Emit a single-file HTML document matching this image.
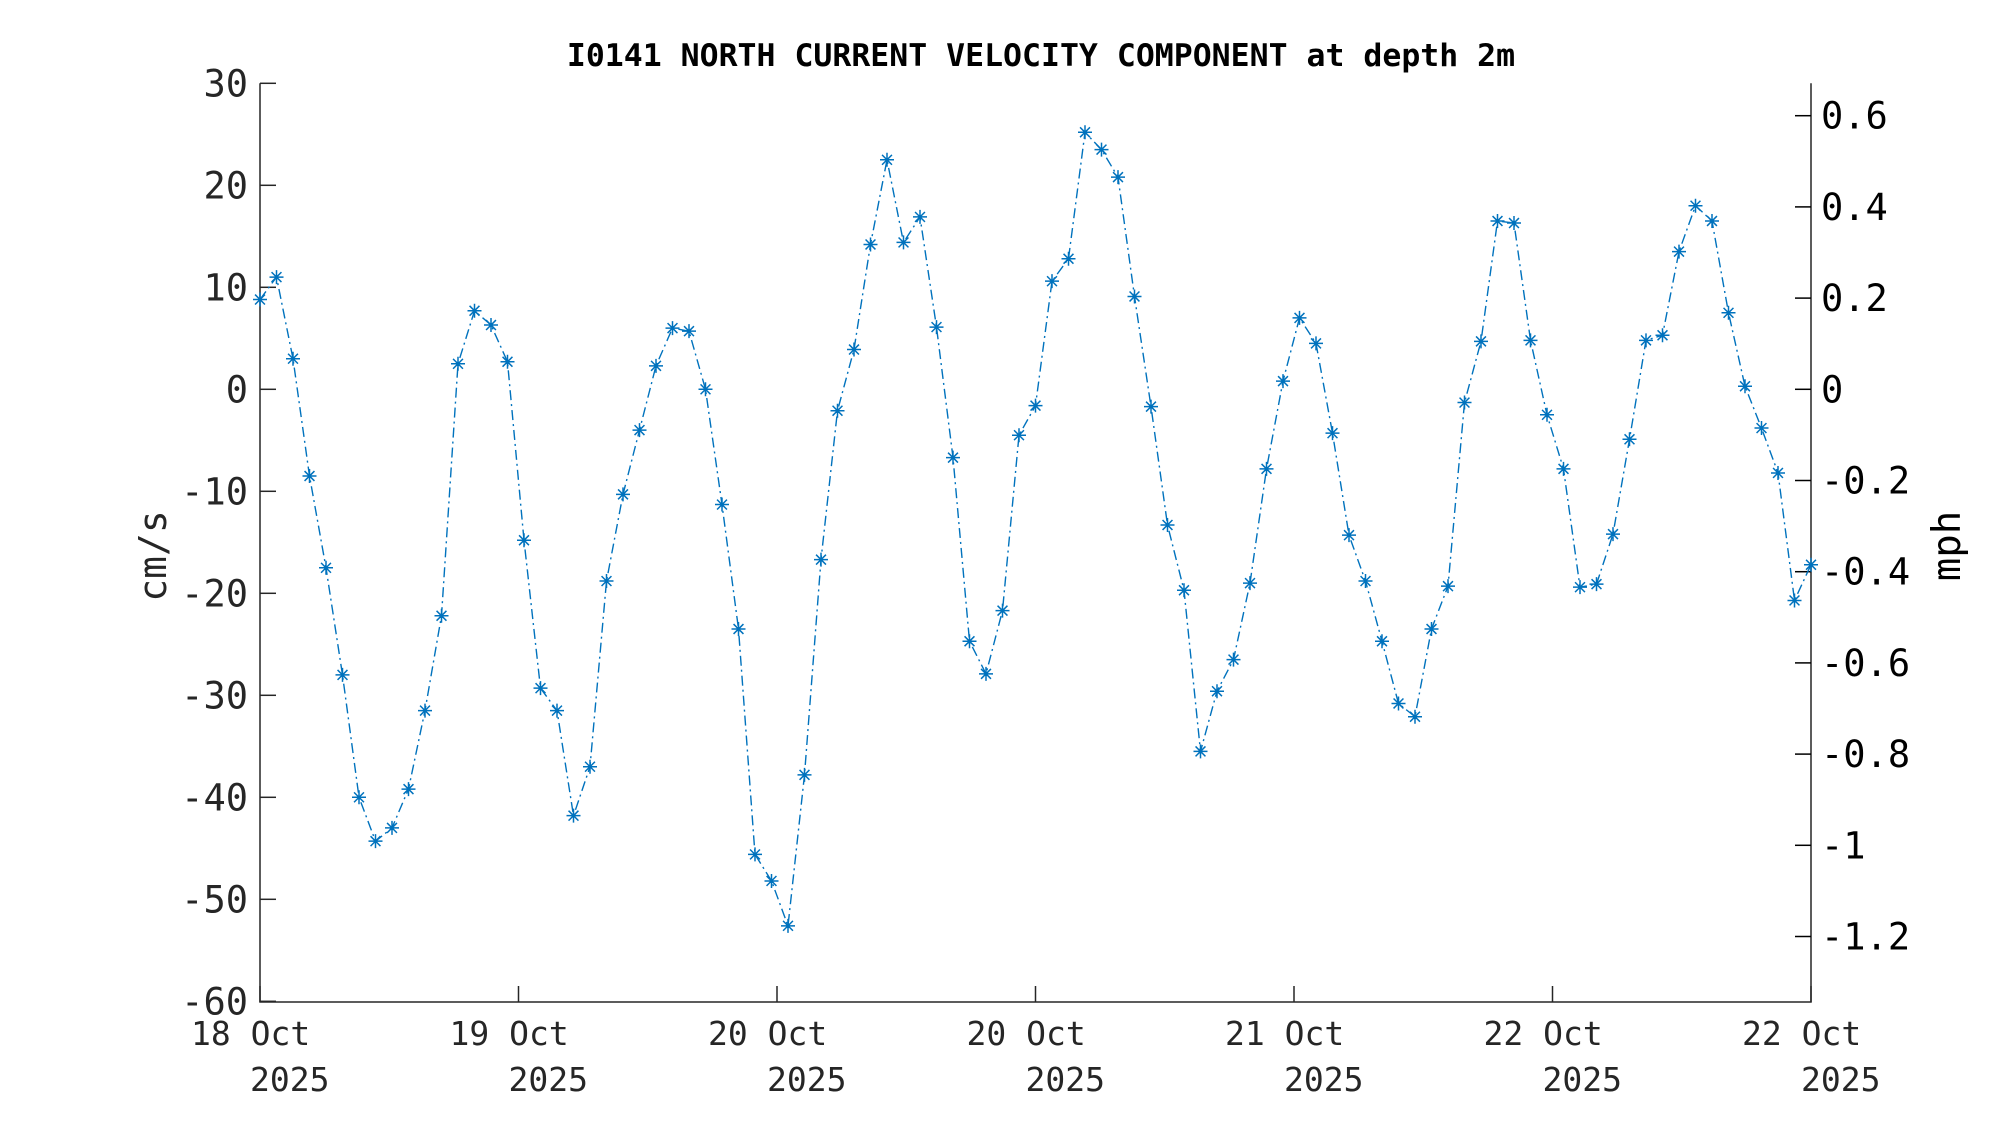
<!DOCTYPE html>
<html><head><meta charset="utf-8"><style>
html,body{margin:0;padding:0;background:#fff;}
svg{display:block;font-family:"DejaVu Sans Mono","Liberation Mono",monospace;}
</style></head><body>
<svg id="s" width="2000" height="1125" xmlns="http://www.w3.org/2000/svg">
<rect width="2000" height="1125" fill="#fff"/>
<text x="1041" y="66" text-anchor="middle" font-size="31.5" font-weight="bold" fill="#000">I0141 NORTH CURRENT VELOCITY COMPONENT at depth 2m</text>
<g id="ax" stroke="#262626" stroke-width="1.5" fill="none"></g>
<g id="lab" font-size="37" fill="#262626"></g>
<g id="data"></g>
<text transform="translate(166,556) rotate(-90)" text-anchor="middle" font-size="38" fill="#262626">cm/s</text>
<text transform="translate(1960,546) rotate(-90)" text-anchor="middle" font-size="39" fill="#000">mph</text>
</svg>
<script>
var NS="http://www.w3.org/2000/svg";
function el(p,t,a,txt){var e=document.createElementNS(NS,t);for(var k in a)e.setAttribute(k,a[k]);if(txt!=null)e.textContent=txt;p.appendChild(e);return e;}
var L=260,R=1811,T=83.3,B=1002;
function Y(v){return 389.3-v*10.2;}
var ax=document.getElementById('ax'),lab=document.getElementById('lab'),dg=document.getElementById('data');
el(ax,'path',{d:'M'+L+' '+T+'V'+B+'H'+R+'V'+T,stroke:'#262626'});
for(var v=30;v>=-60;v-=10){var y=Y(v);el(ax,'path',{d:'M'+L+' '+y+'h16'});el(lab,'text',{x:248,y:y+13,'text-anchor':'end'},v<0?'-'+(-v):''+v);}
var mv=[0.6,0.4,0.2,0,-0.2,-0.4,-0.6,-0.8,-1,-1.2];
mv.forEach(function(m){var y=389.3-m*456;el(ax,'path',{d:'M'+R+' '+y+'h-16',stroke:'#000'});el(lab,'text',{x:1821,y:y+13,fill:'#000'},(m<0?'-':'')+String(Math.abs(m)));});
var xl=['18 Oct','19 Oct','20 Oct','20 Oct','21 Oct','22 Oct','22 Oct'];
for(var i=0;i<7;i++){var x=L+i*(R-L)/6;el(ax,'path',{d:'M'+x+' '+B+'v-16'});
el(lab,'text',{x:x-69,y:1045,'font-size':33},xl[i]);el(lab,'text',{x:x-10,y:1091,'font-size':33},'2025');}
var d=[8.8,11,3,-8.5,-17.5,-28,-40,-44.3,-43,-39.2,-31.5,-22.2,2.5,7.7,6.3,2.7,-14.8,-29.3,-31.5,-41.8,-37,-18.8,-10.3,-4,2.3,6,5.7,0,-11.3,-23.5,-45.6,-48.2,-52.6,-37.8,-16.7,-2.1,3.9,14.2,22.5,14.4,16.9,6.1,-6.7,-24.7,-27.9,-21.7,-4.5,-1.6,10.6,12.8,25.2,23.5,20.8,9.1,-1.7,-13.3,-19.7,-35.5,-29.6,-26.5,-19,-7.8,0.8,7,4.5,-4.3,-14.3,-18.8,-24.7,-30.8,-32.1,-23.5,-19.3,-1.3,4.7,16.5,16.3,4.8,-2.5,-7.8,-19.4,-19.1,-14.2,-4.9,4.8,5.3,13.5,18,16.5,7.5,0.3,-3.8,-8.2,-20.7,-17.2];
var n=d.length,pts=[];
for(var i=0;i<n;i++){pts.push([L+i*(R-L)/(n-1),Y(d[i])]);}
el(dg,'polyline',{points:pts.map(function(p){return p[0].toFixed(1)+','+p[1].toFixed(1)}).join(' '),fill:'none',stroke:'#0072BD','stroke-width':1.4,'stroke-dasharray':'10 4 2 4'});
var s=7,pd='';
pts.forEach(function(p){var x=p[0],y=p[1],k=s*0.707;
pd+='M'+(x-s)+' '+y+'h'+2*s+'M'+x+' '+(y-s)+'v'+2*s+'M'+(x-k)+' '+(y-k)+'l'+2*k+' '+2*k+'M'+(x-k)+' '+(y+k)+'l'+2*k+' '+(-2*k);});
el(dg,'path',{d:pd,stroke:'#0072BD','stroke-width':1.5,fill:'none'});
</script>
</body></html>
